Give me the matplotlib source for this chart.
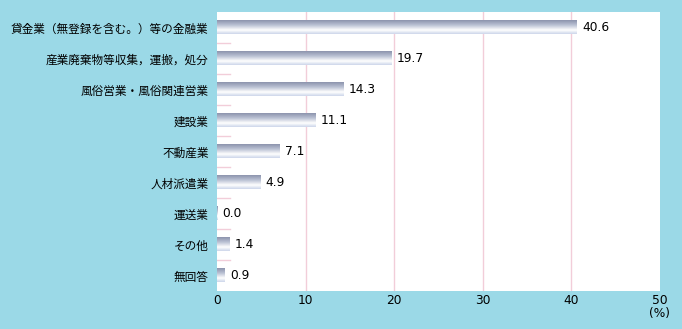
import numpy as np
import matplotlib
matplotlib.use('Agg')
import matplotlib.pyplot as plt
from matplotlib.colors import LinearSegmentedColormap

plt.rcParams['font.family'] = ['Noto Sans CJK JP', 'DejaVu Sans']

categories = ['貸金業（無登録を含む。）等の金融業', '産業廃棄物等収集，運搬，処分',
              '風俗営業・風俗関連営業', '建設業', '不動産業', '人材派遣業',
              '運送業', 'その他', '無回答']
values = [40.6, 19.7, 14.3, 11.1, 7.1, 4.9, 0.0, 1.4, 0.9]
xticks = [0, 10, 20, 30, 40, 50]

bg = '#9bd9e7'
grid_pink = '#f2cdd9'

fig = plt.figure(figsize=(6.82, 3.29), dpi=100, facecolor=bg)
ax = fig.add_axes([217 / 682, 38 / 329, 443 / 682, 279 / 329])
ax.set_facecolor('white')

y = np.arange(len(categories))
bars = ax.barh(y, values, height=0.45, color='none', edgecolor='none', zorder=3)

# gradient for the bars, dark at top, white lower, light blue at bottom
grad_cmap = LinearSegmentedColormap.from_list(
    'bar', [(0.0, '#8c94ad'), (0.35, '#b9c0d3'), (0.72, '#ffffff'), (1.0, '#cdd6ea')])
grad = np.linspace(0, 1, 64).reshape(-1, 1)
for b in bars:
    w = b.get_width()
    if w <= 0:
        w = 0.08
    y0 = b.get_y()
    h = b.get_height()
    ax.imshow(grad, cmap=grad_cmap, aspect='auto', zorder=3,
              extent=[0, w, y0 + h, y0], interpolation='bilinear')

for i, v in enumerate(values):
    ax.text(v + 0.6, i, f'{v:.1f}', va='center', ha='left', fontsize=8.8,
            family='DejaVu Sans', zorder=4)

for x in xticks[1:-1]:
    ax.axvline(x, color=grid_pink, lw=1, zorder=1)

for i in range(len(categories) - 1):
    ax.plot([0, 1.5], [i + 0.5, i + 0.5], color=grid_pink, lw=1, zorder=1)

ax.set_xlim(0, 50)
ax.set_ylim(len(categories) - 0.5, -0.5)
ax.set_yticks(y)
ax.set_yticklabels(categories, fontsize=8.4)
ax.set_xticks(xticks)
ax.set_xticklabels([str(t) for t in xticks], fontsize=8.8, family='DejaVu Sans')
ax.tick_params(axis='x', length=0, pad=2)
ax.tick_params(axis='y', length=0, pad=6)
for s in ax.spines.values():
    s.set_visible(False)

ax.text(50, -0.058, '(%)', transform=ax.get_xaxis_transform(), ha='center', va='top',
        fontsize=8.8, family='DejaVu Sans')

fig.savefig('out.png', dpi=100, facecolor=bg)
